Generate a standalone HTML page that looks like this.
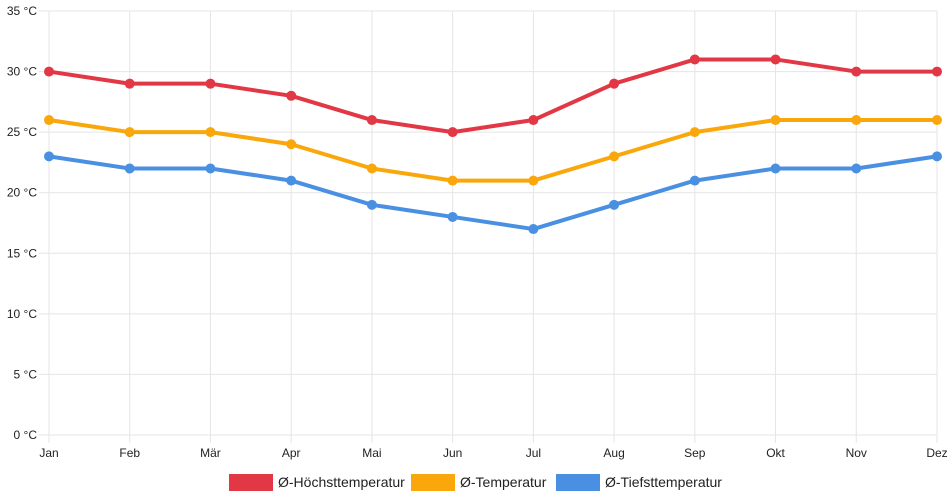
<!DOCTYPE html>
<html><head><meta charset="utf-8">
<style>
html,body{margin:0;padding:0;background:#fff;}
svg{display:block;font-family:"Liberation Sans",sans-serif;}
</style></head>
<body>
<svg id="chart" width="952" height="500"></svg>
<script>
const categories=["Jan","Feb","Mär","Apr","Mai","Jun","Jul","Aug","Sep","Okt","Nov","Dez"];
const highValues=[30,29,29,28,26,25,26,29,31,31,30,30];
const avgValues=[26,25,25,24,22,21,21,23,25,26,26,26];
const lowValues=[23,22,22,21,19,18,17,19,21,22,22,23];
const yTicks=[0,5,10,15,20,25,30,35];
const seriesNames=["Ø-Höchsttemperatur","Ø-Temperatur","Ø-Tiefsttemperatur"];

const NS="http://www.w3.org/2000/svg";
const svg=document.getElementById('chart');
const x0=49,x1=937,yTop=11,yBot=435,yMax=35;
function xs(i){return x0+(x1-x0)*i/(categories.length-1);}
function ys(v){return yBot-(yBot-yTop)*v/yMax;}
function mk(tag,attrs,parent){const e=document.createElementNS(NS,tag);for(const k in attrs)e.setAttribute(k,attrs[k]);(parent||svg).appendChild(e);return e;}

const grid=mk('g',{});


yTicks.forEach(t=>{
  const y=ys(t);
  mk('line',{x1:x0-10,x2:x1,y1:y,y2:y,stroke:'#e5e5e5','stroke-width':1},grid);
  const tx=mk('text',{x:x0-12,y:y+4,'text-anchor':'end','font-size':12,fill:'#222'});
  tx.textContent=t+' °C';
  
  
});
categories.forEach((c,i)=>{
  const x=xs(i);
  mk('line',{x1:x,x2:x,y1:yTop,y2:yBot+8,stroke:'#e5e5e5','stroke-width':1},grid);
  const tx=mk('text',{x:x,y:yBot+22,'text-anchor':'middle','font-size':12,fill:'#222'});
  tx.textContent=c;
  
  
});

const allSeries=[highValues,avgValues,lowValues];
const colors=['#e23745','#f9a70a','#4a90e2'];
const sNames=['high-series','avg-series','low-series'];
allSeries.forEach((vals,si)=>{
  const g=mk('g',{});
  
  
  const pts=vals.map((v,i)=>xs(i)+','+ys(v)).join(' ');
  const pl=mk('polyline',{points:pts,fill:'none',stroke:colors[si],'stroke-width':4,'stroke-linejoin':'round'},g);
  
  
  vals.forEach((v,i)=>{
    const c=mk('circle',{cx:xs(i),cy:ys(v),r:5,fill:colors[si]},g);
    
    
  });
});

const legendX=[229,411,556];
seriesNames.forEach((n,i)=>{
  const g=mk('g',{});
  
  
  mk('rect',{x:legendX[i],y:474,width:44,height:17,fill:colors[i]},g);
  const t=mk('text',{x:legendX[i]+49,y:487,'font-size':14,fill:'#222'},g);
  t.textContent=n;
});
</script>
</body></html>
